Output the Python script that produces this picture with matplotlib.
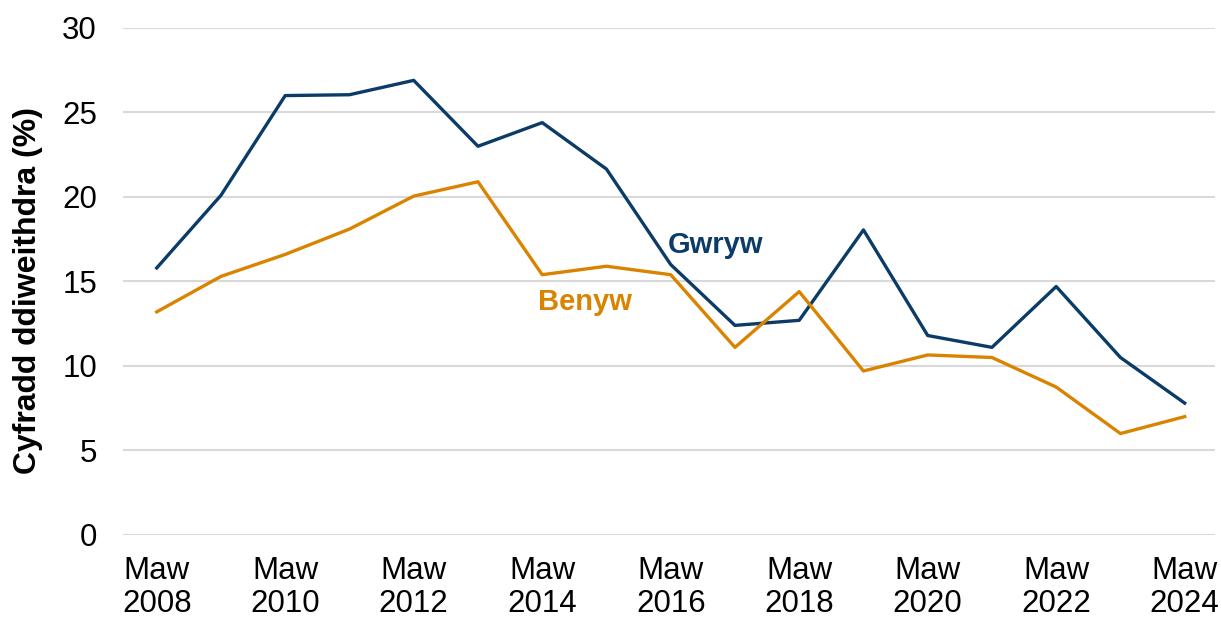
import matplotlib.pyplot as plt

plt.rcParams['font.family'] = ['Liberation Sans', 'DejaVu Sans']

years = list(range(2008, 2025))
gwryw = [15.8, 20.1, 26.0, 26.05, 26.9, 23.0, 24.4, 21.65, 16.0, 12.4, 12.7,
         18.05, 11.8, 11.1, 14.7, 10.5, 7.8]
benyw = [13.2, 15.3, 16.6, 18.1, 20.05, 20.9, 15.4, 15.9, 15.4, 11.1, 14.4,
         9.7, 10.65, 10.5, 8.75, 6.0, 7.0]
tick_years = list(range(2008, 2025, 2))
tick_labels = [f"Maw\n{y}" for y in tick_years]

blue = '#0B3C68'
orange = '#DA8300'

fig = plt.figure(figsize=(12.21, 6.22), dpi=100)
ax = fig.add_axes([0.101, 0.140, 0.894, 0.815])

ax.plot(years, gwryw, color=blue, lw=2.4)
ax.plot(years, benyw, color=orange, lw=2.4)

ax.set_xlim(2007.48, 2024.47)
ax.set_ylim(0, 30)
ax.set_yticks(range(0, 31, 5))
ax.set_xticks(tick_years)
ax.set_xticklabels(tick_labels, linespacing=1.15)
ax.tick_params(axis='both', length=0, labelsize=22.5, colors='black')
ax.tick_params(axis='x', pad=15)
ax.tick_params(axis='y', pad=19)
ax.yaxis.grid(True, color='#D9D9D9', lw=1.5)
ax.set_axisbelow(True)
for s in ax.spines.values():
    s.set_visible(False)

ax.set_ylabel('Cyfradd ddiweithdra (%)', fontsize=23, fontweight='bold',
              labelpad=14, y=0.482)

ax.text(2015.95, 16.7, 'Gwryw', color=blue, fontsize=21, fontweight='bold', va='baseline')
ax.text(2013.93, 13.3, 'Benyw', color=orange, fontsize=21, fontweight='bold', va='baseline')

fig.savefig('out.png', dpi=100)
